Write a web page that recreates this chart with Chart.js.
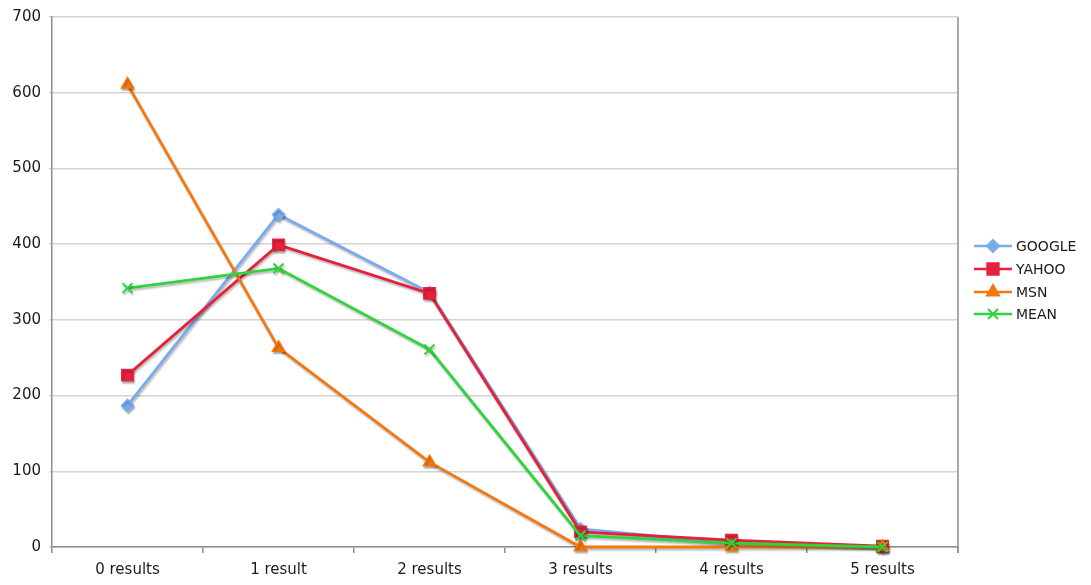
<!DOCTYPE html>
<html>
<head>
<meta charset="utf-8">
<script src="https://cdn.jsdelivr.net/npm/chart.js@4/dist/chart.umd.min.js"></script>
<style>
  html, body { margin: 0; padding: 0; background: #fff; }
  #wrap { width: 1091px; height: 585px; position: relative; }
</style>
</head>
<body>
<div id="wrap"><canvas id="chart"></canvas></div>
<script>
// ---------- DATA ----------
const categories = ["0 results", "1 result", "2 results", "3 results", "4 results", "5 results"];
const google = [187, 439, 336, 24, 5, 0];
const yahoo  = [227, 399, 335, 20, 9, 1];
const msn    = [611, 263, 112, 0, 0, 0];
const mean   = [342, 368, 261, 15, 5, 0];
const yTicks = [0, 100, 200, 300, 400, 500, 600, 700];

const FONT = "'DejaVu Sans', Verdana, sans-serif";

const series = [
  { label: "GOOGLE", data: google, color: "#78acef", style: "rectRot", radius: 6, order: 4 },
  { label: "YAHOO",  data: yahoo,  color: "#e6213b", style: "rect",    radius: 8, order: 3 },
  { label: "MSN",    data: msn,    color: "#f5780e", style: "triangle", radius: 7, order: 2 },
  { label: "MEAN",   data: mean,   color: "#2ed43a", style: "crossRot", radius: 7, order: 1 }
];

// ---------- PLUGINS ----------
// soft drop shadow under the lines
const shadowPlugin = {
  id: "shadow",
  beforeDatasetsDraw(chart) {
    const ctx = chart.ctx;
    ctx.save();
    ctx.shadowColor = "rgba(0,0,0,0.28)";
    ctx.shadowBlur = 2;
    ctx.shadowOffsetX = 1;
    ctx.shadowOffsetY = 2;
  },
  afterDatasetsDraw(chart) {
    chart.ctx.restore();
  }
};

// right border of the plot + legend with line and marker
const framePlugin = {
  id: "frame",
  afterDraw(chart) {
    const ctx = chart.ctx;
    const a = chart.chartArea;
    ctx.save();
    ctx.strokeStyle = "#8c8c8c";
    ctx.lineWidth = 1.5;
    ctx.beginPath();
    ctx.moveTo(a.right, a.top);
    ctx.lineTo(a.right, a.bottom + 6);
    ctx.stroke();

    const x0 = 974, ys = [246, 269, 292, 314];
    series.forEach((s, i) => {
      const y = ys[i];
      ctx.strokeStyle = s.color;
      ctx.fillStyle = s.color;
      ctx.lineWidth = 2.5;
      ctx.beginPath();
      ctx.moveTo(x0, y);
      ctx.lineTo(x0 + 38, y);
      ctx.stroke();
      ctx.lineWidth = 2;
      Chart.helpers.drawPoint(ctx, { pointStyle: s.style, radius: s.radius, rotation: 0, borderWidth: 2 }, x0 + 19, y);
      ctx.fillStyle = "#1a1a1a";
      ctx.font = "14px " + FONT;
      ctx.textBaseline = "middle";
      ctx.textAlign = "left";
      ctx.fillText(s.label, x0 + 42, y + 1);
    });
    ctx.restore();
  }
};

// ---------- CHART ----------
new Chart(document.getElementById("chart"), {
  type: "line",
  data: {
    labels: categories,
    datasets: series.map(s => ({
      label: s.label,
      data: s.data,
      order: s.order,
      clip: false,
      borderColor: s.color,
      backgroundColor: s.color,
      borderWidth: 2.8,
      pointStyle: s.style,
      pointRadius: s.radius,
      pointBorderWidth: s.style === "crossRot" ? 2 : 1.5,
      pointBackgroundColor: s.color,
      pointBorderColor: s.color,
      tension: 0,
      fill: false
    }))
  },
  options: {
    responsive: true,
    maintainAspectRatio: false,
    animation: false,
    layout: { padding: { top: 12, right: 133, left: 0, bottom: 0 } },
    plugins: {
      legend: { display: false },
      tooltip: { enabled: false }
    },
    scales: {
      x: {
        offset: true,
        grid: {
          offset: true,
          drawOnChartArea: false,
          drawTicks: true,
          tickLength: 6,
          color: "#8c8c8c",
          lineWidth: 1.5
        },
        border: { color: "#8c8c8c", width: 1.5 },
        ticks: {
          color: "#1a1a1a",
          font: { family: FONT, size: 15 },
          padding: 8
        },
        afterFit(scale) { scale.height = 38; }
      },
      y: {
        min: 0,
        max: 700,
        afterBuildTicks(scale) { scale.ticks = yTicks.map(v => ({ value: v })); },
        grid: {
          color: "#d4d4d4",
          lineWidth: 1.5,
          tickLength: 3
        },
        border: { color: "#8c8c8c", width: 1.5 },
        ticks: {
          color: "#1a1a1a",
          font: { family: FONT, size: 15 },
          padding: 8
        },
        afterFit(scale) { scale.width = 52; }
      }
    }
  },
  plugins: [shadowPlugin, framePlugin]
});
</script>
</body>
</html>
